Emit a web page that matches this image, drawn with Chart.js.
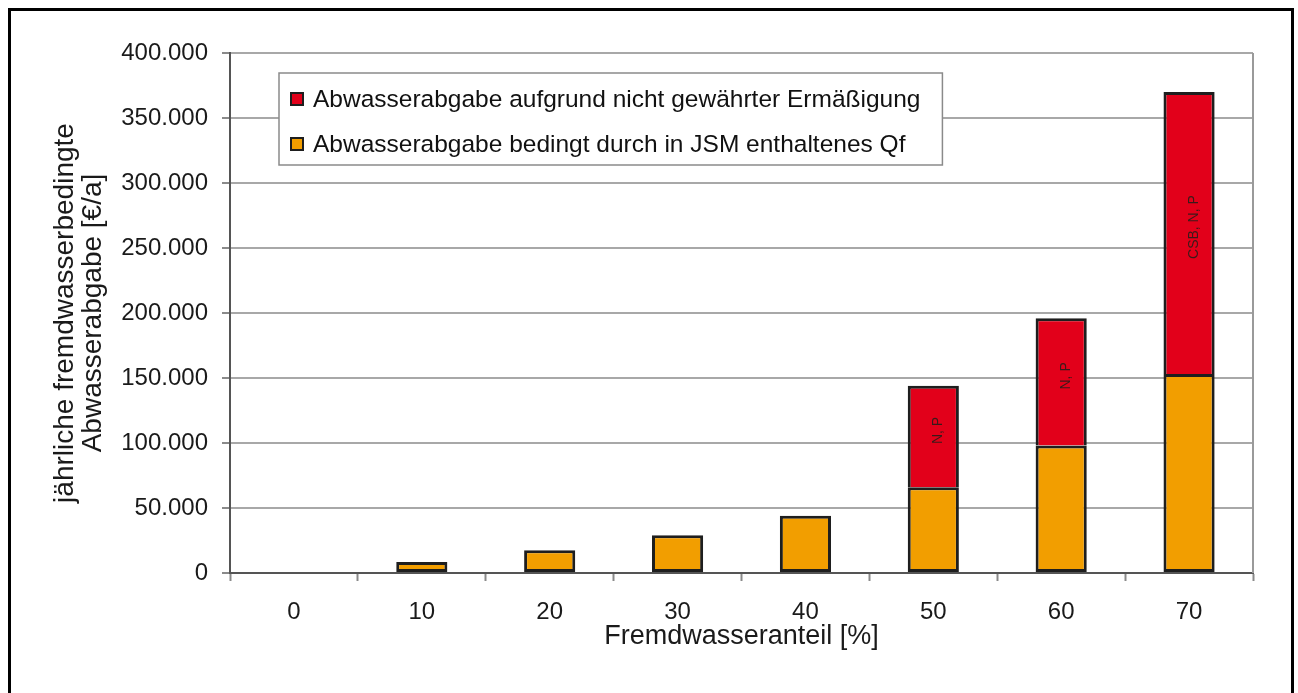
<!DOCTYPE html>
<html lang="de">
<head>
<meta charset="utf-8">
<title>Fremdwasserbedingte Abwasserabgabe</title>
<script src="https://cdn.jsdelivr.net/npm/chart.js@4.4.1/dist/chart.umd.min.js"></script>
<style>
    body { margin: 0; background: #fff; overflow: hidden; }
    #wrap { position: relative; width: 1298px; height: 693px; }
    #frame {
        position: absolute; left: 8px; top: 8px;
        width: 1280px; height: 700px;
        border: 3px solid #000; pointer-events: none;
    }
</style>
</head>
<body>
<div id="wrap">
    <canvas id="chart" width="1298" height="693"></canvas>
    <div id="frame"></div>
</div>
<script>
// Data
const categories = ['0', '10', '20', '30', '40', '50', '60', '70'];
const qfShare = [0, 8500, 17500, 29000, 44000, 66000, 98000, 153000];
const noReduction = [0, 0, 0, 0, 0, 78000, 98000, 217000];
const barNotes = ['', '', '', '', '', 'N, P', 'N, P', 'CSB, N, P'];
const seriesNames = [
    'Abwasserabgabe aufgrund nicht gewährter Ermäßigung',
    'Abwasserabgabe bedingt durch in JSM enthaltenes Qf'
];
const yTitle = ['jährliche fremdwasserbedingte', 'Abwasserabgabe [€/a]'];
const xTitle = 'Fremdwasseranteil [%]';

const FONT = "'Liberation Sans', Arial, sans-serif";
const RED = '#e2001a';
const ORANGE = '#f29e00';
const EDGE = '#1e1e1e';

// Format numbers with German thousands separator
function formatDe(v) {
    return String(v).replace(/\B(?=(\d{3})+(?!\d))/g, '.');
}

// Rotated notes inside the red segments
const notesPlugin = {
    id: 'notes',
    afterDatasetsDraw(chart) {
        const meta = chart.getDatasetMeta(1);
        const ctx = chart.ctx;
        ctx.save();
        ctx.font = '14px ' + FONT;
        ctx.fillStyle = '#3a1a1a';
        ctx.textAlign = 'center';
        ctx.textBaseline = 'middle';
        meta.data.forEach(function(bar, i) {
            if (!barNotes[i]) return;
            const cy = (bar.y + bar.base) / 2 - 6;
            ctx.save();
            ctx.translate(bar.x + 5, cy);
            ctx.rotate(-Math.PI / 2);
            ctx.fillText(barNotes[i], 0, 0);
            ctx.restore();
        });
        ctx.restore();
    }
};

// Legend box inside the plot area plus right border of the plot
const boxPlugin = {
    id: 'box',
    afterDraw(chart) {
        const ctx = chart.ctx;
        const area = chart.chartArea;
        ctx.save();

        // right border of plot area
        ctx.strokeStyle = '#9a9a9a';
        ctx.lineWidth = 2;
        ctx.beginPath();
        ctx.moveTo(area.right, area.top);
        ctx.lineTo(area.right, area.bottom);
        ctx.stroke();

        // legend
        const left = area.left + 49;
        const top = area.top + 20;
        ctx.font = '24.5px ' + FONT;
        const textW = Math.max(ctx.measureText(seriesNames[0]).width, ctx.measureText(seriesNames[1]).width);
        const w = 34 + textW + 22;
        const h = 92;
        ctx.fillStyle = '#fff';
        ctx.fillRect(left, top, w, h);
        ctx.strokeStyle = '#8a8a8a';
        ctx.lineWidth = 1.5;
        ctx.strokeRect(left, top, w, h);

        const colors = [RED, ORANGE];
        const rows = [top + 26, top + 71];
        ctx.textBaseline = 'middle';
        ctx.textAlign = 'left';
        for (let i = 0; i < 2; i++) {
            ctx.fillStyle = EDGE;
            ctx.fillRect(left + 11, rows[i] - 7, 14, 14);
            ctx.fillStyle = colors[i];
            ctx.fillRect(left + 13, rows[i] - 5, 10, 10);
            ctx.fillStyle = '#111';
            ctx.fillText(seriesNames[i], left + 34, rows[i] + 1);
        }
        ctx.restore();
    }
};

const ctx = document.getElementById('chart').getContext('2d');
const chart = new Chart(ctx, {
    type: 'bar',
    data: {
        labels: categories,
        datasets: [
            {
                label: seriesNames[1],
                data: qfShare,
                backgroundColor: ORANGE,
                borderColor: EDGE,
                borderWidth: 3,
                borderSkipped: false,
                barPercentage: 0.4,
                categoryPercentage: 1.0
            },
            {
                label: seriesNames[0],
                data: noReduction,
                backgroundColor: RED,
                borderColor: EDGE,
                borderWidth: 3,
                borderSkipped: 'start',
                barPercentage: 0.4,
                categoryPercentage: 1.0
            }
        ]
    },
    options: {
        responsive: false,
        animation: false,
        devicePixelRatio: 1,
        layout: { padding: { left: 0, right: 45, top: 53, bottom: 0 } },
        plugins: {
            legend: { display: false },
            tooltip: { enabled: false }
        },
        scales: {
            x: {
                stacked: true,
                afterFit: function(scale) { scale.height = 120; },
                grid: {
                    display: true,
                    drawOnChartArea: false,
                    offset: true,
                    tickLength: 8,
                    tickColor: '#8a8a8a',
                    tickWidth: 2
                },
                border: { display: true, color: '#555', width: 2 },
                ticks: {
                    color: '#1a1a1a',
                    font: { family: FONT, size: 24 },
                    padding: 17
                },
                title: {
                    display: true,
                    text: xTitle,
                    color: '#1a1a1a',
                    font: { family: FONT, size: 27, lineHeight: 1.04 },
                    padding: { top: 0, bottom: 42 }
                }
            },
            y: {
                stacked: true,
                min: 0,
                max: 400000,
                afterFit: function(scale) { scale.width = 230; },
                grid: {
                    color: '#a8a8a8',
                    lineWidth: 2,
                    tickLength: 8,
                    tickColor: '#8a8a8a'
                },
                border: { display: true, color: '#555', width: 2 },
                ticks: {
                    stepSize: 50000,
                    color: '#1a1a1a',
                    font: { family: FONT, size: 24 },
                    padding: 14,
                    callback: function(v) { return formatDe(v); }
                },
                title: {
                    display: true,
                    text: yTitle,
                    color: '#1a1a1a',
                    font: { family: FONT, size: 28, lineHeight: 1.0 },
                    padding: { top: 51, bottom: 0 }
                }
            }
        }
    },
    plugins: [notesPlugin, boxPlugin]
});
</script>
</body>
</html>
